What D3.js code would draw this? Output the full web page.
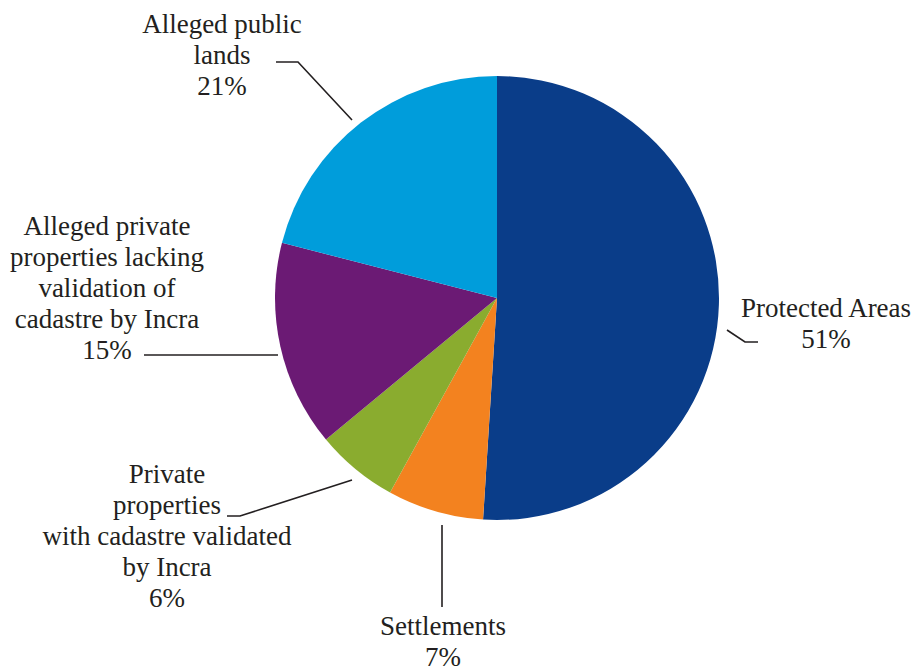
<!DOCTYPE html>
<html>
<head>
<meta charset="utf-8">
<script src="https://cdn.jsdelivr.net/npm/d3@7"></script>
<style>
  body { margin: 0; background: #fff; }
</style>
</head>
<body>
<div id="chart"></div>
<script>
// slices, clockwise from 12 o'clock
var categories = ["Protected Areas", "Settlements", "Private properties with cadastre validated by Incra",
  "Alleged private properties lacking validation of cadastre by Incra", "Alleged public lands"];
var shares = [51, 7, 6, 15, 21];
var colors = ["#0a3d89", "#f3821f", "#8aac2f", "#6b1a74", "#009ddb"];
var labelLines = [
  ["Protected Areas"],
  ["Settlements"],
  ["Private", "properties", "with cadastre validated", "by Incra"],
  ["Alleged private", "properties lacking", "validation of", "cadastre by Incra"],
  ["Alleged public", "lands"]
];

var width = 914, height = 668;
var cx = 497, cy = 298, radius = 222;
var lineH = 31;

// where each label block sits (x = centre of text, y = first baseline) and its leader line
var layout = [
  { x: 826, y: 317, leader: [[727, 330], [745, 342], [758, 342]] },
  { x: 443, y: 635, leader: [[442, 525], [442, 607]] },
  { x: 167, y: 483, leader: [[352, 480], [240, 516], [227, 516]] },
  { x: 107, y: 235, leader: [[278, 355], [144, 355]] },
  { x: 222, y: 33, leader: [[352, 120], [298, 62], [276, 62]] }
];

var data = categories.map(function(c, i) {
  return { name: c, value: shares[i], color: colors[i], lines: labelLines[i] };
});

var svg = d3.select("#chart").append("svg")
  .attr("width", width)
  .attr("height", height);

var pie = d3.pie().sort(null).value(function(d) { return d.value; });
var arc = d3.arc().innerRadius(0).outerRadius(radius);

var g = svg.append("g").attr("transform", "translate(" + cx + "," + cy + ")");
g.selectAll("path")
  .data(pie(data))
  .enter().append("path")
  .attr("d", arc)
  .attr("fill", function(d) { return d.data.color; });

var line = d3.line();
svg.selectAll(".leader")
  .data(layout)
  .enter().append("path")
  .attr("class", "leader")
  .attr("d", function(d) { return line(d.leader); })
  .attr("fill", "none")
  .attr("stroke", "#231f20")
  .attr("stroke-width", 1.6);

var labels = svg.selectAll(".lbl")
  .data(data)
  .enter().append("text")
  .attr("class", "lbl")
  .attr("text-anchor", "middle")
  .style("font-family", "Liberation Serif")
  .style("font-size", "27px")
  .style("fill", "#231f20");

labels.each(function(d, i) {
  var t = d3.select(this);
  var rows = d.lines.concat([d.value + "%"]);
  rows.forEach(function(r, j) {
    t.append("tspan")
      .attr("x", layout[i].x)
      .attr("y", layout[i].y + j * lineH)
      .text(r);
  });
});
</script>
</body>
</html>
